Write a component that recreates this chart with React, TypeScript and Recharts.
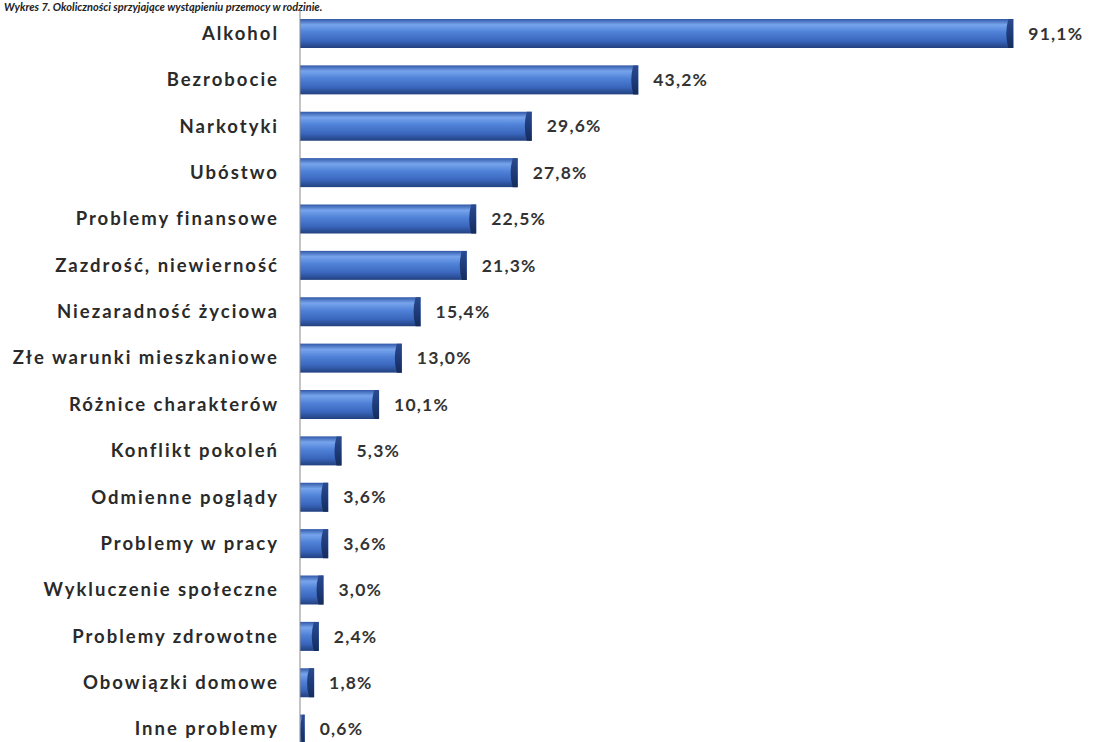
import { Bar, BarChart, LabelList, XAxis, YAxis } from "recharts";

const categories = [
  "Alkohol",
  "Bezrobocie",
  "Narkotyki",
  "Ubóstwo",
  "Problemy finansowe",
  "Zazdrość, niewierność",
  "Niezaradność życiowa",
  "Złe warunki mieszkaniowe",
  "Różnice charakterów",
  "Konflikt pokoleń",
  "Odmienne poglądy",
  "Problemy w pracy",
  "Wykluczenie społeczne",
  "Problemy zdrowotne",
  "Obowiązki domowe",
  "Inne problemy",
];

const values = [91.1, 43.2, 29.6, 27.8, 22.5, 21.3, 15.4, 13.0, 10.1, 5.3, 3.6, 3.6, 3.0, 2.4, 1.8, 0.6];

const data = categories.map((name, i) => ({ name, value: values[i] }));

const fmt = (v: number) => `${v.toFixed(1).replace(".", ",")}%`;

// cylinder-ish bar like the old Excel 3D style
function CylinderBar(props: any) {
  const { x, y, width, height } = props;
  if (!width || width <= 0) return null;
  const cap = Math.min(5, width / 2);
  const r = height / 2;
  return (
    <g>
      <rect x={x} y={y} width={width} height={height} fill="url(#barGrad)" />
      <path
        d={`M${x + width - cap},${y} Q${x + width - cap - 4},${y + r} ${x + width - cap},${y + height} L${x + width},${y + height} L${x + width},${y} Z`}
        fill="url(#endGrad)"
      />
    </g>
  );
}

export default function App() {
  return (
    <div style={{ position: "absolute", top: 0, left: 0, width: 1093, height: 742, overflow: "hidden", background: "#fff" }}>
      <div
        style={{
          position: "absolute",
          top: 0,
          left: 4,
          lineHeight: "13px",
          fontFamily: "Lato, sans-serif",
          fontWeight: 700,
          fontStyle: "italic",
          fontSize: 11,
          color: "#222",
          whiteSpace: "nowrap",
        }}
      >
        Wykres 7. Okoliczności sprzyjające wystąpieniu przemocy w rodzinie.
      </div>
      <BarChart
        width={1093}
        height={760}
        data={data}
        layout="vertical"
        margin={{ top: 10, right: 10, bottom: 8, left: 0 }}
      >
        <defs>
          <linearGradient id="barGrad" x1="0" y1="0" x2="0" y2="1">
            <stop offset="0%" stopColor="#3158a8" />
            <stop offset="20%" stopColor="#77a4ec" />
            <stop offset="45%" stopColor="#4f82d8" />
            <stop offset="75%" stopColor="#3a67bd" />
            <stop offset="100%" stopColor="#22407f" />
          </linearGradient>
          <linearGradient id="endGrad" x1="0" y1="0" x2="0" y2="1">
            <stop offset="0%" stopColor="#2a4b90" />
            <stop offset="50%" stopColor="#1e3b7a" />
            <stop offset="100%" stopColor="#152d5c" />
          </linearGradient>
        </defs>
        <XAxis type="number" domain={[0, 100]} hide />
        <YAxis
          type="category"
          dataKey="name"
          width={300}
          tickLine={false}
          axisLine={{ stroke: "#8a8a8a" }}
          tickMargin={15}
          tick={{ fontSize: 18.5, fontWeight: 700, fill: "#2a2a2a", fontFamily: "Lato, sans-serif", letterSpacing: 2 }}
          interval={0}
        />
        <Bar dataKey="value" barSize={29} shape={<CylinderBar />} isAnimationActive={false}>
          <LabelList
            dataKey="value"
            position="right"
            offset={15}
            formatter={(v: any) => fmt(Number(v))}
            style={{ fontSize: 17.5, fontWeight: 700, fill: "#333", fontFamily: "Lato, sans-serif", letterSpacing: 1.2 }}
          />
        </Bar>
      </BarChart>
    </div>
  );
}
